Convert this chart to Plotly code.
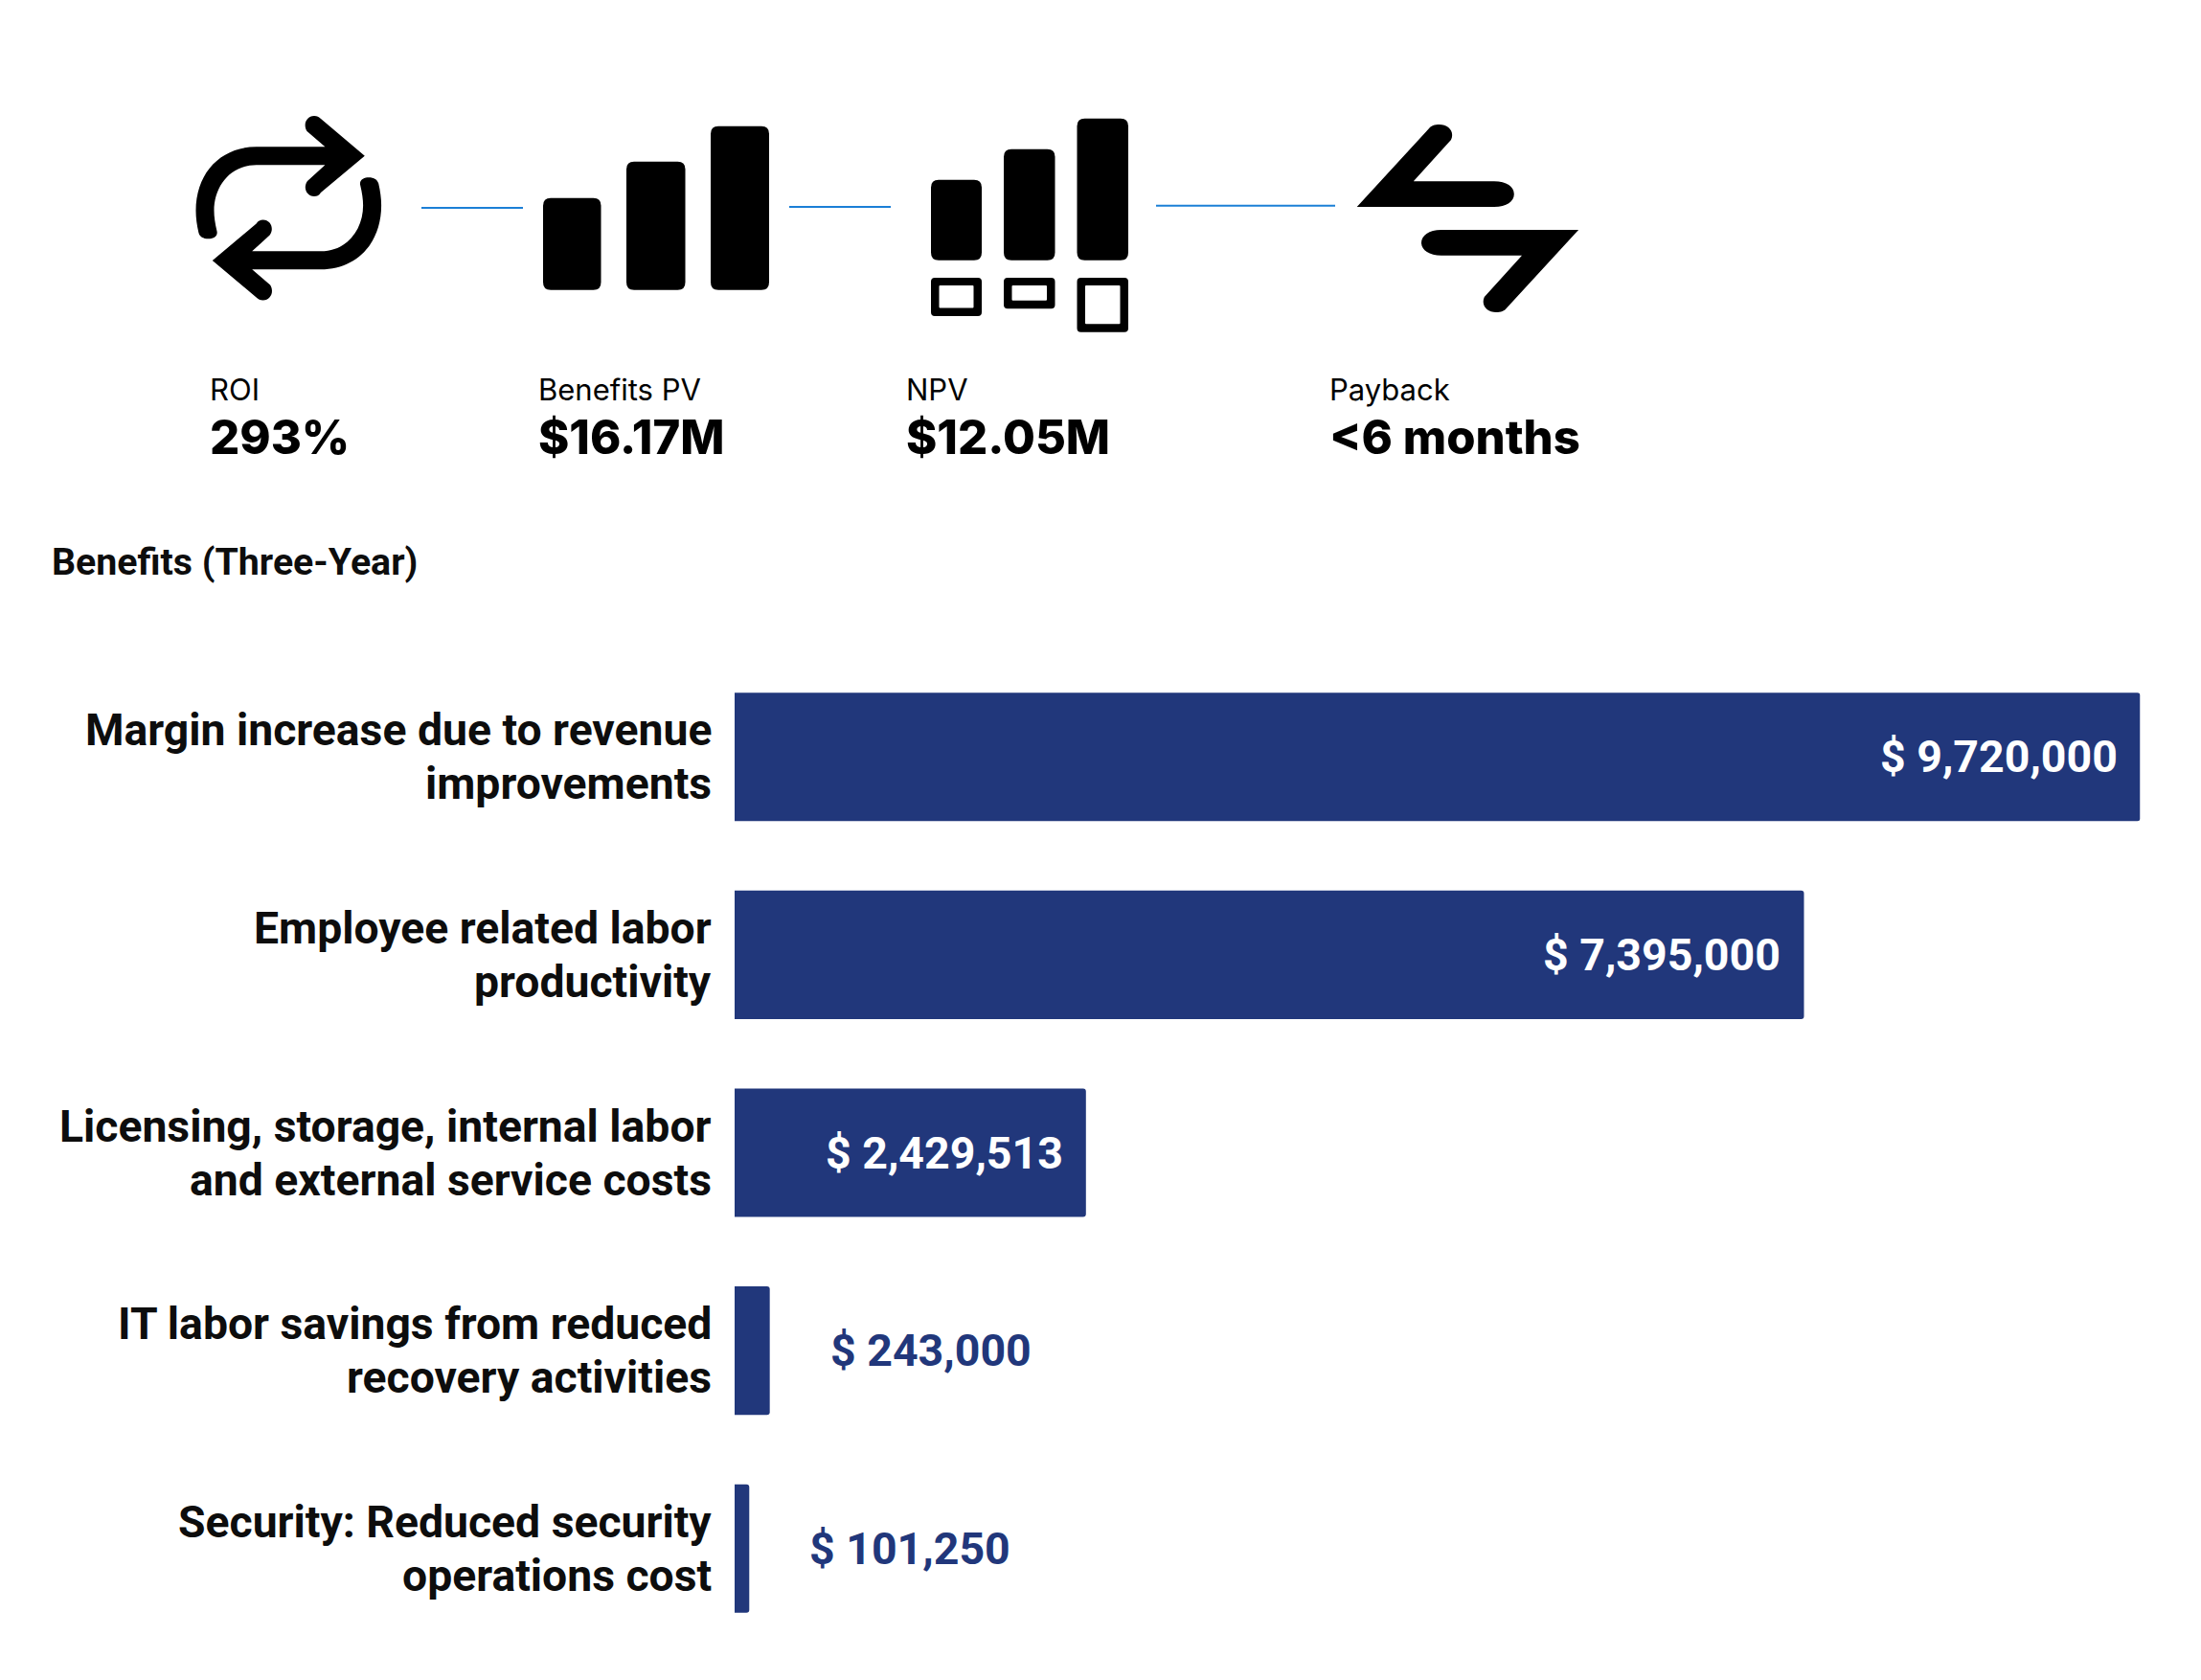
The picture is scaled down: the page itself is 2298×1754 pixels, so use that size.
import plotly.graph_objects as go

# bars
categories = [
    "Margin increase due to revenue<br>improvements",
    "Employee related labor<br>productivity",
    "Licensing, storage, internal labor<br>and external service costs",
    "IT labor savings from reduced<br>recovery activities",
    "Security: Reduced security<br>operations cost",
]
values = [9720000, 7395000, 2429513, 243000, 101250]

# kpi row
kpi_labels = ["ROI", "Benefits PV", "NPV", "Payback"]
kpi_values = ["293%", "$16.17M", "$12.05M", "<6 months"]
kpi_x = [217, 560, 944, 1386]

W, H = 2298, 1754
NAVY = "#21377b"
BLUE = "#1b7fd6"
INK = "#0d0d0d"

fig = go.Figure()
fig.add_trace(go.Bar(
    x=values, y=categories, orientation="h",
    marker=dict(color=NAVY, cornerradius=3, line_width=0),
    hoverinfo="skip",
))

for v, c in zip(values, categories):
    # value labels
    big = v > 1000000
    fig.add_annotation(
        x=v, y=c, xref="x", yref="y", showarrow=False,
        text=f"$ {v:,}",
        xanchor="right" if big else "left",
        xshift=-22 if big else 61,
        font=dict(family="Roboto", size=46.5, weight=700, color="white" if big else NAVY),
    )
    # category labels, one line at a time because the leading is tighter than plotly's
    for line, shift in zip(c.split("<br>"), [28, -28]):
        fig.add_annotation(
            x=0, y=c, xref="x", yref="y", showarrow=False,
            text=line, xanchor="right", xshift=-22, yshift=shift,
            font=dict(family="Roboto", size=46.3, weight=700, color=INK),
        )


def rrect(x0, y0, x1, y1, r=8):
    return (f"M {x0+r} {y0} L {x1-r} {y0} Q {x1} {y0} {x1} {y0+r} L {x1} {y1-r} "
            f"Q {x1} {y1} {x1-r} {y1} L {x0+r} {y1} Q {x0} {y1} {x0} {y1-r} "
            f"L {x0} {y0+r} Q {x0} {y0} {x0+r} {y0} Z")


def icon(path):
    fig.add_shape(type="path", path=path, xref="x2", yref="y2", fillrule="evenodd",
                  fillcolor="black", line_width=0, layer="above")


def outline(segs, turn=None):
    # turn=(cx, cy) gives the half-turned copy, for the two-part icons
    def pt(p):
        return f"{2*turn[0]-p[0]} {2*turn[1]-p[1]}" if turn else f"{p[0]} {p[1]}"
    out = []
    for cmd, pts in segs:
        if cmd == "C":
            out.append("C " + " ".join(pt(p) for p in pts))
        else:
            # plotly only takes one point per M or L
            out.extend(f"{cmd} {pt(p)}" for p in pts)
    return " ".join(out) + " Z"


# repeat icon
repeat_top = [
    ("M", [(207.4, 243)]),
    ("C", [(205.5, 235), (204.5, 227), (204.5, 220)]),
    ("C", [(204.5, 180), (231, 153.3), (267.7, 153.3)]),
    ("L", [(339.4, 153.3), (320.5, 137)]),
    ("C", [(316, 130), (320, 121), (328, 121)]),
    ("C", [(331, 121), (333, 122), (335, 124)]),
    ("L", [(380.8, 162.7), (335, 201)]),
    ("C", [(333, 204), (331, 205), (328, 205)]),
    ("C", [(320, 205), (316, 196), (321, 189)]),
    ("L", [(339.4, 172.3), (267.7, 172.3)]),
    ("C", [(240, 172.3), (223.5, 195), (223.5, 220)]),
    ("C", [(223.5, 226), (224.5, 233), (226.4, 241)]),
    ("C", [(228, 247), (222, 249.3), (217.7, 249.3)]),
    ("C", [(212, 249.3), (208.5, 247), (207.4, 243)]),
]
icon(outline(repeat_top))
icon(outline(repeat_top, (301.3, 217.3)))

# bars icon
for x0, x1, top in [(567, 627.5, 206.7), (654, 715.5, 168.7), (742, 803, 131.7)]:
    icon(rrect(x0, top, x1, 302.7))

# bars with boxes icon
for x0, x1, top, box_bottom in [(972, 1025, 187.7, 330), (1048, 1101.5, 155.7, 322.3), (1124.5, 1178, 123.7, 346.7)]:
    icon(rrect(x0, top, x1, 271.7))
    icon(rrect(x0, 290, x1, box_bottom, 4) + " " + rrect(x0 + 8.5, 298, x1 - 8.5, box_bottom - 8.5, 1))

# payback icon
payback_top = [
    ("M", [(1416.7, 216)]),
    ("L", [(1491.2, 135)]),
    ("C", [(1494, 131), (1498, 130), (1502.8, 130)]),
    ("C", [(1512, 130), (1519, 137), (1515, 146)]),
    ("L", [(1475.8, 189.3), (1560, 189.3)]),
    ("C", [(1573, 189.3), (1580.8, 195), (1580.8, 202.7)]),
    ("C", [(1580.8, 210), (1573, 216), (1560, 216)]),
]
icon(outline(payback_top))
icon(outline(payback_top, (1532.4, 228)))

# connector lines
for x0, x1, y0 in [(440, 546, 217), (824, 930, 216), (1207, 1394, 214.7)]:
    fig.add_shape(type="line", x0=x0, x1=x1, y0=y0, y1=y0, xref="x2", yref="y2",
                  line=dict(color=BLUE, width=2), layer="above")

# kpi text
for x, lab, val in zip(kpi_x, kpi_labels, kpi_values):
    fig.add_annotation(x=x, y=406.5, xref="x2", yref="y2", text=lab, showarrow=False, xanchor="left",
                       font=dict(family="Inter", size=31, color="black"))
    fig.add_annotation(x=x, y=456, xref="x2", yref="y2", text=val, showarrow=False, xanchor="left",
                       font=dict(family="Inter", size=49, weight=800, color="black"))

fig.add_annotation(x=52, y=587, xref="x2", yref="y2", text="Benefits (Three-Year)", showarrow=False,
                   xanchor="left", font=dict(family="Roboto", size=39.3, weight=700, color=INK))

fig.update_layout(
    width=W, height=H,
    margin=dict(l=0, r=0, t=0, b=0),
    paper_bgcolor="white", plot_bgcolor="rgba(0,0,0,0)",
    showlegend=False,
    bargap=0.351,
    xaxis=dict(domain=[767 / W, 2234.5 / W], range=[0, 9720000], visible=False),
    yaxis=dict(domain=[1 - 1720 / H, 1 - 687 / H], autorange="reversed", showgrid=False,
               showline=False, ticks="", showticklabels=False),
    xaxis2=dict(domain=[0, 1], range=[0, W], visible=False, anchor="y2"),
    yaxis2=dict(domain=[0, 1], range=[H, 0], visible=False, anchor="x2"),
)

fig.write_html("out.html", config={"displayModeBar": False},
               post_script="document.body.style.margin='0';")
